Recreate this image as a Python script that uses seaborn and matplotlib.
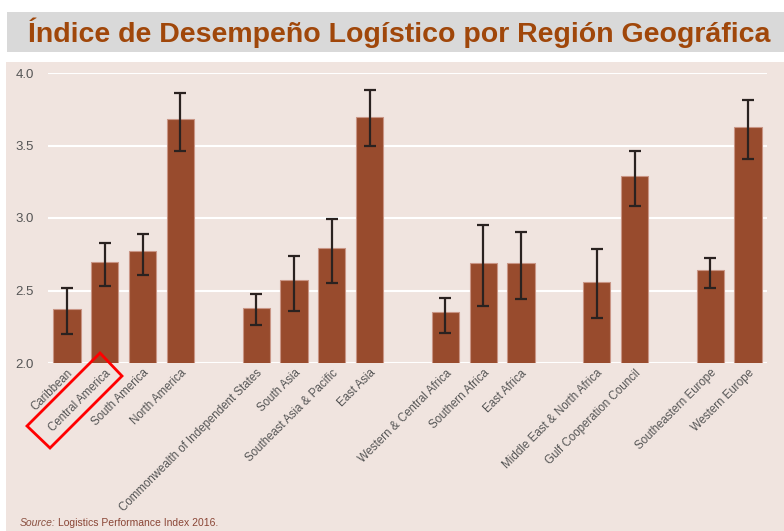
import matplotlib
matplotlib.use("Agg")
import matplotlib.pyplot as plt
import seaborn as sns
import pandas as pd
import numpy as np
from matplotlib.patches import Polygon, Rectangle

regions = ["Caribbean", "Central America", "South America", "North America",
           "Commonwealth of Independent States", "South Asia", "Southeast Asia & Pacific", "East Asia",
           "Western & Central Africa", "Southern Africa", "East Africa",
           "Middle East & North Africa", "Gulf Cooperation Council",
           "Southeastern Europe", "Western Europe"]
groups = [4, 4, 3, 2, 2]
lpi = [2.37, 2.70, 2.77, 3.68,
       2.38, 2.57, 2.79, 3.70,
       2.35, 2.69, 2.69,
       2.56, 3.29,
       2.64, 3.63]
err_low = [2.20, 2.53, 2.61, 3.46,
           2.26, 2.36, 2.55, 3.50,
           2.21, 2.39, 2.44,
           2.31, 3.08,
           2.52, 3.41]
err_high = [2.515, 2.825, 2.89, 3.86,
            2.475, 2.74, 2.995, 3.885,
            2.445, 2.95, 2.905,
            2.785, 3.46,
            2.725, 3.815]
yticks = [2.0, 2.5, 3.0, 3.5, 4.0]

# category order with blank spacer slots between groups
order = []
k = 0
for gi, n in enumerate(groups):
    order += regions[k:k + n]
    k += n
    if gi < len(groups) - 1:
        order.append(" " * (gi + 1))

df = pd.DataFrame({"region": regions, "lpi": lpi})

FAM = ["Liberation Sans", "DejaVu Sans"]
BG = "#f0e4df"
fig = plt.figure(figsize=(7.84, 5.31), dpi=100)
fig.patch.set_facecolor("white")
fig.add_artist(Rectangle((6 / 784, 0), 778 / 784, 1 - 62 / 531, transform=fig.transFigure,
                         facecolor=BG, edgecolor="none", zorder=0))
fig.add_artist(Rectangle((7 / 784, 1 - 52 / 531), 777 / 784, 40 / 531, transform=fig.transFigure,
                         facecolor="#d9d9d9", edgecolor="none", zorder=0))
fig.text(399 / 784, 1 - 33 / 531, "Índice de Desempeño Logístico por Región Geográfica",
         ha="center", va="center", fontsize=20.5, fontweight="bold", color="#a0470a",
         family=FAM)

ax = fig.add_axes([48 / 784, 1 - 363 / 531, 719 / 784, 290 / 531])
ax.set_facecolor(BG)
ax.set_axisbelow(True)
sns.barplot(data=df, x="region", y="lpi", order=order, color="#984b2d", width=0.72,
            edgecolor="#c99585", linewidth=0.8, saturation=1, ax=ax, errorbar=None)
pos = [order.index(r) for r in regions]
yerr = np.array([np.array(lpi) - np.array(err_low), np.array(err_high) - np.array(lpi)])
ax.errorbar(pos, lpi, yerr=yerr, fmt="none", ecolor="#2a2220", elinewidth=1.6,
            capsize=4.5, capthick=1.6, zorder=5)
ax.set_ylim(2.0, 4.0)
ax.set_xlim(-0.5, len(order) - 0.5)
ax.set_yticks(yticks)
ax.set_yticklabels([f"{t:.1f}" for t in yticks])
ax.grid(axis="y", color="white", linewidth=1.5)
ax.grid(axis="x", visible=False)
for s in ax.spines.values():
    s.set_visible(False)
ax.tick_params(length=0, colors="#555555", labelsize=9.5)
ax.tick_params(axis="y", pad=10)
ax.tick_params(axis="x", pad=3)
ax.set_xlabel("")
ax.set_ylabel("")
for lab in ax.get_xticklabels():
    lab.set_rotation(45)
    lab.set_ha("right")
    lab.set_rotation_mode("anchor")
    lab.set_family(FAM)
    lab.set_fontsize(8.3)
for lab in ax.get_yticklabels():
    lab.set_family(FAM)

# red highlight box around "Central America"
pts = [(100, 353), (122, 376), (50, 448), (27, 426)]
fig.add_artist(Polygon([(x / 784, 1 - y / 531) for x, y in pts], closed=True,
                       transform=fig.transFigure, fill=False, edgecolor="red", linewidth=2, zorder=10))

t1 = fig.text(20 / 784, 1 - 526 / 531, "Source:", style="italic", fontsize=7.5, color="#8a5040",
              va="baseline", family=FAM)
fig.canvas.draw()
bb = t1.get_window_extent(renderer=fig.canvas.get_renderer())
fig.text((bb.x1 + 2) / 784, 1 - 526 / 531, "Logistics Performance Index 2016.", fontsize=7.5,
         color="#8a4535", va="baseline", family=FAM)

fig.savefig("out.png", dpi=100, facecolor="white")
